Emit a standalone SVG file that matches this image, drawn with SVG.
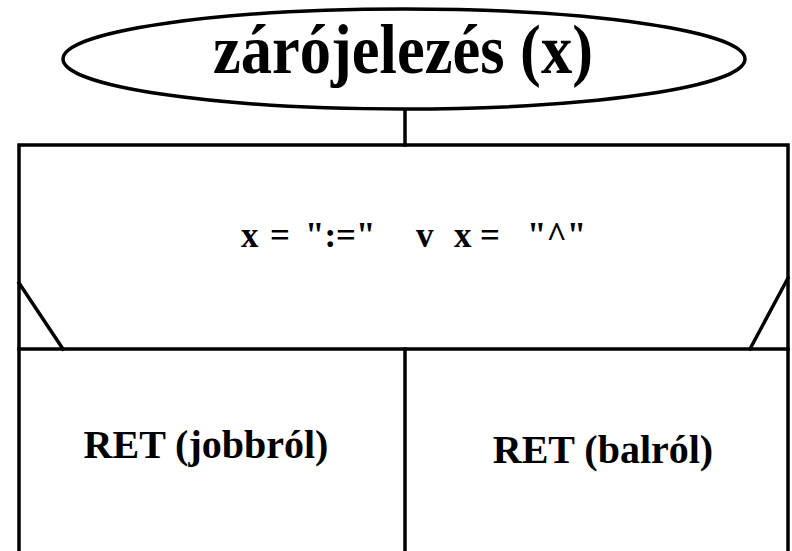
<svg xmlns="http://www.w3.org/2000/svg" width="792" height="551" viewBox="0 0 792 551">
<style>
.ln{fill:none;stroke:#000;stroke-width:3.5;stroke-linecap:square}
.t{font-family:"Liberation Serif","Times New Roman",serif;font-weight:bold;fill:#000}
</style>
<rect width="792" height="551" fill="#fff"/>
<g id="start">
<ellipse class="ln" cx="404" cy="59" rx="341" ry="50"/>
<text class="t" transform="translate(403,73) scale(1,1.1)" font-size="62.5" text-anchor="middle">zárójelezés (x)</text>
</g>
<g id="connectors">
<line class="ln" x1="405" y1="110" x2="405" y2="145"/>
</g>
<g id="branch">
<polyline class="ln" points="19,551 19,145 788,145 788,551"/>
<line class="ln" x1="19" y1="349" x2="788" y2="349"/>
<line class="ln" x1="19" y1="283" x2="63" y2="349"/>
<line class="ln" x1="788" y1="278" x2="750" y2="349"/>
<text class="t" y="247" font-size="35"><tspan x="241">x</tspan><tspan x="270">=</tspan><tspan x="305">":="</tspan><tspan x="416">v</tspan><tspan x="454">x</tspan><tspan x="480">=</tspan><tspan x="527">"^"</tspan></text>
</g>
<g id="left">
<line class="ln" x1="405" y1="349" x2="405" y2="551"/>
<text class="t" x="206" y="458" font-size="40" text-anchor="middle">RET (jobbról)</text>
</g>
<g id="right">
<text class="t" x="603" y="463" font-size="40" text-anchor="middle">RET (balról)</text>
</g>
</svg>
